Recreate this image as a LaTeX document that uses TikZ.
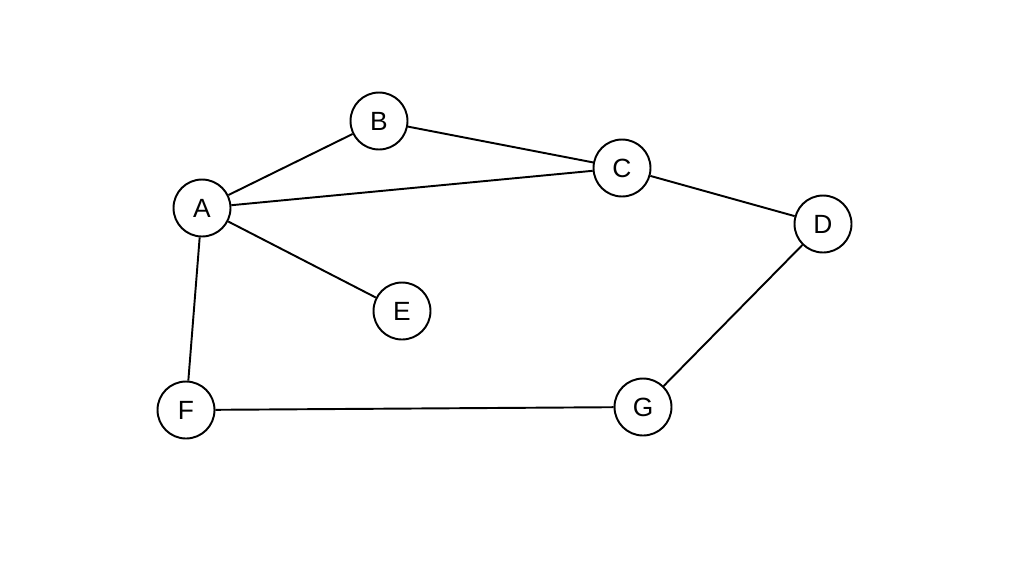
\documentclass[tikz,border=0pt]{standalone}
\usepackage{fontspec}
\setsansfont{Liberation Sans}
\usetikzlibrary{positioning}

\tikzset{
    vertex/.style={circle, draw, line width=1.1pt, minimum size=1.14cm, inner sep=0pt,
        font=\fontsize{15}{17}\selectfont\sffamily},
    link/.style={line width=1.1pt}
}

\begin{document}
\begin{tikzpicture}[x=0.02cm, y=-0.02cm]
    \useasboundingbox (0, 0) rectangle (1024, 576);

    \node[vertex] (A) at (202, 208) {A};
    \node[vertex] (B) at (379, 121) {B};
    \node[vertex] (C) at (622, 168) {C};
    \node[vertex] (D) at (823, 224) {D};
    \node[vertex] (E) at (402, 311) {E};
    \node[vertex] (F) at (186, 410) {F};
    \node[vertex] (G) at (643, 407) {G};

    \draw[link] (A) -- (B);
    \draw[link] (A) -- (C);
    \draw[link] (B) -- (C);
    \draw[link] (C) -- (D);
    \draw[link] (A) -- (E);
    \draw[link] (A) -- (F);
    \draw[link] (F) -- (G);
    \draw[link] (G) -- (D);
\end{tikzpicture}
\end{document}
